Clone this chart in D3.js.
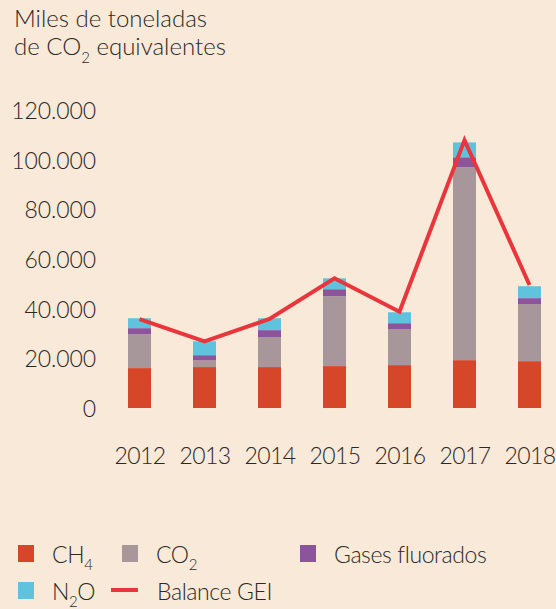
<!doctype html>
<html lang="es">
<head>
<meta charset="utf-8">
<title>Balance GEI</title>
<script src="https://cdn.jsdelivr.net/npm/d3@7"></script>
<style>
  html, body { margin: 0; padding: 0; background: #f8e9d8; }
  svg { display: block; font-family: Lato, "Open Sans", sans-serif; font-weight: 300; }
  text { fill: #2b2826; }
</style>
</head>
<body>
<div id="chart"></div>
<script>
// valores (miles de toneladas de CO2 eq.)
var years = ["2012", "2013", "2014", "2015", "2016", "2017", "2018"];
var ch4   = [16100, 16500, 16500, 16900, 17300, 19300, 18900];
var co2   = [13700, 2800, 12100, 28200, 14500, 77800, 23000];
var fgas  = [2400, 2000, 2800, 2800, 2400, 4000, 2400];
var n2o   = [4000, 5600, 4800, 4400, 4400, 6000, 4800];
var balance = [35800, 26900, 35900, 52300, 38800, 108000, 49600];
var yTicks = [0, 20000, 40000, 60000, 80000, 100000, 120000];

var keys = ["ch4", "co2", "fgas", "n2o"];
var colors = { ch4: "#d6472a", co2: "#a8979a", fgas: "#8c559b", n2o: "#60c3dd" };
var lineColor = "#e9363d";

var width = 556, height = 609;

var svg = d3.select("#chart").append("svg")
    .attr("width", width)
    .attr("height", height);

var table = years.map(function(y, i) {
    return { year: y, ch4: ch4[i], co2: co2[i], fgas: fgas[i], n2o: n2o[i] };
});
var series = d3.stack().keys(keys)(table);

var x = d3.scalePoint().domain(years).range([139.5, 529.5]);
var y = d3.scaleLinear().domain([0, 120000]).range([408, 110.4]);
var barW = 23;

// titulo
var title = svg.append("g").style("font-size", "24px");
title.append("text").attr("x", 14).attr("y", 27).text("Miles de toneladas");
var t2 = title.append("text").attr("x", 14).attr("y", 55);
t2.append("tspan").text("de CO");
t2.append("tspan").attr("dy", 8).style("font-size", "15px").text("2");
t2.append("tspan").attr("dy", -8).text(" equivalentes");

// eje y
var fmt = d3.formatLocale({ decimal: ",", thousands: ".", grouping: [3], currency: ["", ""] }).format(",d");
svg.append("g")
    .attr("transform", "translate(96,0)")
    .call(d3.axisLeft(y).tickValues(yTicks).tickFormat(fmt).tickSize(0).tickPadding(0))
    .call(function(g) {
        g.select(".domain").remove();
        g.selectAll("text")
            .attr("fill", "#2b2826")
            .attr("dy", "0.36em")
            .style("font-family", "Lato, sans-serif")
            .style("font-weight", 300)
            .style("font-size", "23px")
            .style("letter-spacing", "-0.1px");
    });

// eje x
svg.append("g")
    .attr("transform", "translate(0,464)")
    .call(d3.axisBottom(x).tickSize(0).tickPadding(0))
    .call(function(g) {
        g.select(".domain").remove();
        g.selectAll("text")
            .attr("fill", "#2b2826")
            .attr("dy", 0)
            .style("font-family", "Lato, sans-serif")
            .style("font-weight", 300)
            .style("font-size", "23px")
            .style("letter-spacing", "-0.6px");
    });

// barras
svg.append("g").selectAll("g")
    .data(series)
    .join("g")
    .attr("fill", function(d) { return colors[d.key]; })
    .selectAll("rect")
    .data(function(d) { return d; })
    .join("rect")
    .attr("x", function(d) { return x(d.data.year) - barW / 2; })
    .attr("width", barW)
    .attr("y", function(d) { return y(d[1]); })
    .attr("height", function(d) { return y(d[0]) - y(d[1]); });

// linea balance
var line = d3.line()
    .x(function(d, i) { return x(years[i]); })
    .y(function(d) { return y(d); });
svg.append("path")
    .datum(balance)
    .attr("fill", "none")
    .attr("stroke", lineColor)
    .attr("stroke-width", 4)
    .attr("d", line);

// leyenda
var legend = svg.append("g").style("font-size", "23px").style("letter-spacing", "-0.4px");
var legendItems = [
    { key: "ch4", x: 18, y: 545, label: ["CH", "4"] },
    { key: "co2", x: 122, y: 545, label: ["CO", "2"] },
    { key: "fgas", x: 300, y: 545, label: ["Gases fluorados", ""] },
    { key: "n2o", x: 18, y: 582, label: ["N", "2", "O"] },
    { key: "line", x: 111, y: 582, label: ["Balance GEI", ""] }
];
legendItems.forEach(function(it) {
    if (it.key === "line") {
        legend.append("rect").attr("x", it.x).attr("y", it.y + 6).attr("width", 27).attr("height", 4).attr("fill", lineColor);
    } else {
        legend.append("rect").attr("x", it.x).attr("y", it.y).attr("width", 16).attr("height", 17).attr("fill", colors[it.key]);
    }
    var tx = legend.append("text").attr("x", it.x + (it.key === "line" ? 46 : 34)).attr("y", it.y + 18);
    tx.append("tspan").text(it.label[0]);
    if (it.label[1]) tx.append("tspan").attr("dy", 7).style("font-size", "15px").text(it.label[1]);
    if (it.label[2]) tx.append("tspan").attr("dy", -7).text(it.label[2]);
});
</script>
</body>
</html>
